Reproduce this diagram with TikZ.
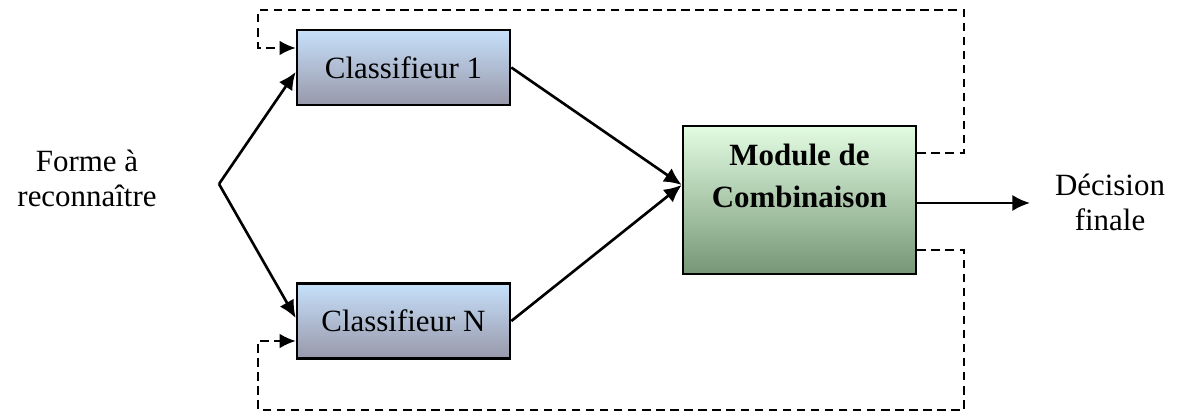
\documentclass[tikz,border=0pt]{standalone}
\usepackage{fontspec}
\setmainfont{Liberation Serif}
\usetikzlibrary{calc,arrows.meta}
\definecolor{bleuhaut}{RGB}{198,224,250}
\definecolor{bleumilieu}{RGB}{178,202,228}
\definecolor{bleubas}{RGB}{152,152,170}
\definecolor{verthaut}{RGB}{226,252,226}
\definecolor{vertmilieu}{RGB}{186,220,186}
\definecolor{vertbas}{RGB}{118,150,118}
\tikzset{classif/.style={rectangle,draw=black,line width=0.75pt,minimum width=2.13cm,minimum height=0.75cm,inner sep=0pt,top color=bleuhaut,middle color=bleumilieu,bottom color=bleubas,font=\fontsize{8.8}{10.5}\selectfont},
combibox/.style={rectangle,draw=black,line width=0.75pt,minimum width=2.33cm,minimum height=1.48cm,inner sep=0pt,top color=verthaut,middle color=vertmilieu,bottom color=vertbas},
texte/.style={align=center,font=\fontsize{8.8}{10}\selectfont},
fleche/.style={-{Latex[length=5pt,width=4.6pt]},line width=0.75pt},
retour/.style={-{Latex[length=4.6pt,width=4.2pt]},dash pattern=on 2.4pt off 1.6pt,line width=0.55pt}}
\newcommand*{\RetourX}{9.64}

\begin{document}
\begin{tikzpicture}
\useasboundingbox (0,0) rectangle (11.79,4.19);
\node[classif] (cls1) at (4.035,3.515) {Classifieur 1};
\node[classif] (clsN) at (4.035,0.98) {Classifieur N};
\node[combibox] (combi) at (7.995,2.19) {};
\node[texte,font=\fontsize{8.8}{11.9}\bfseries\selectfont] (combitxt) at ($(combi)+(0,0.24)$) {Module de\\Combinaison};
\node[texte] (forme) at (0.87,2.41) {Forme à\\reconnaître};
\node[texte] (decision) at (11.10,2.17) {Décision\\finale};
\coordinate (fork) at (2.19,2.35);% point de separation
\coordinate (sortie) at (10.30,2.16);

\draw[fleche] (fork) -- ($(cls1.west)+(0,-0.045)$);
\draw[fleche] (fork) -- ($(clsN.west)+(0,0.03)$);
\draw[fleche] (cls1.east) -- ($(combi.west)+(0,0.15)$);
\draw[fleche] (clsN.east) -- ($(combi.west)+(0,0.15)$);
\draw[fleche] ($(combi.east)+(0,-0.03)$) -- (sortie);

% retours
\draw[retour] ($(combi.east)+(0,0.47)$) -- (\RetourX,2.66) -- (\RetourX,4.09) -- (2.58,4.09) -- (2.58,3.71) -- ($(cls1.west)+(0,0.195)$);
\draw[retour] ($(combi.east)+(0,-0.5)$) -- (\RetourX,1.69) -- (\RetourX,0.09) -- (2.58,0.09) -- (2.58,0.78) -- ($(clsN.west)+(0,-0.2)$);

\end{tikzpicture}
\end{document}
